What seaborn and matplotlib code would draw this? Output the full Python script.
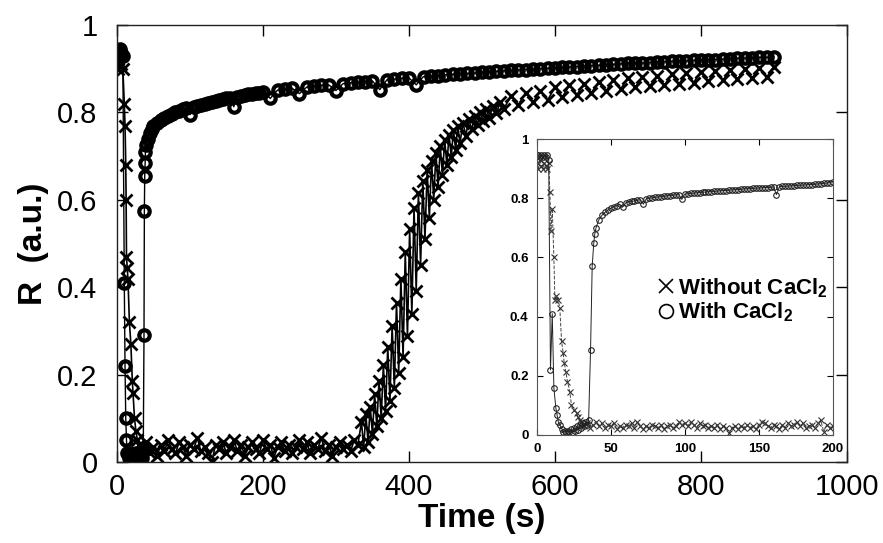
import numpy as np
import pandas as pd
import seaborn as sns
import matplotlib.pyplot as plt
from matplotlib.lines import Line2D

# MAIN PLOT DATA (0 - 900 s)

t_with = [0, 2, 4, 6, 8, 10, 11, 12, 13, 14, 16, 18, 20, 22, 24, 26, 28, 30, 32, 34, 36,
          37, 37.5, 38, 38.5, 39, 40, 42, 45, 48,
          50, 55, 60, 65, 70, 75, 80, 85, 90, 95, 100, 105, 110, 115, 120, 125, 130, 135, 140,
          145, 150, 155, 160, 165, 170, 175, 180, 185, 190, 195, 200, 210, 220, 230, 240, 250,
          260, 270, 280, 290, 300, 310, 320, 330, 340, 350, 360, 370, 380, 390, 400, 410, 420,
          430, 440, 450, 460, 470, 480, 490, 500, 510, 520, 530, 540, 550, 560, 570, 580, 590,
          600, 610, 620, 630, 640, 650, 660, 670, 680, 690, 700, 710, 720, 730, 740, 750, 760,
          770, 780, 790, 800, 810, 820, 830, 840, 850, 860, 870, 880, 890, 900]
R_with = [0.94, 0.93, 0.945, 0.935, 0.93, 0.41, 0.22, 0.10, 0.05, 0.02, 0.01, 0.02, 0.005,
          0.015, 0.01, 0.02, 0.01, 0.015, 0.02, 0.01, 0.03,
          0.29, 0.575, 0.655, 0.685, 0.71, 0.725, 0.74, 0.752, 0.763,
          0.770, 0.776, 0.783, 0.788, 0.792, 0.796, 0.800, 0.804, 0.808, 0.810, 0.795, 0.813,
          0.815, 0.818, 0.820, 0.822, 0.824, 0.826, 0.828, 0.830, 0.832, 0.834, 0.813, 0.836,
          0.838, 0.840, 0.841, 0.842, 0.844, 0.845, 0.847, 0.832, 0.851, 0.853, 0.855, 0.843,
          0.858, 0.860, 0.862, 0.863, 0.850, 0.866, 0.868, 0.869, 0.870, 0.872, 0.852, 0.875,
          0.876, 0.878, 0.879, 0.863, 0.882, 0.883, 0.884, 0.886, 0.887, 0.888, 0.889, 0.890,
          0.892, 0.893, 0.894, 0.895, 0.896, 0.897, 0.898, 0.899, 0.900, 0.901, 0.902, 0.903,
          0.904, 0.905, 0.906, 0.907, 0.908, 0.909, 0.910, 0.911, 0.912, 0.913, 0.913, 0.914,
          0.915, 0.916, 0.917, 0.918, 0.918, 0.919, 0.920, 0.921, 0.921, 0.922, 0.923, 0.924,
          0.924, 0.925, 0.926, 0.926, 0.927]

t_without = [0, 2, 4, 6, 8, 10, 11, 12, 12.5, 13, 14, 15, 17, 19, 21, 22, 24, 26, 28, 30,
             35, 40, 45, 50, 55, 60, 65, 70, 75, 80, 85, 90, 95, 100, 105, 110, 115, 120, 125,
             130, 135, 140, 145, 150, 155, 160, 165, 170, 175, 180, 185, 190, 195, 200, 205,
             210, 215, 220, 225, 230, 235, 240, 245, 250, 255, 260, 265, 270, 275, 280, 285,
             290, 295, 300, 305, 310, 315, 320, 325, 330,
             335, 338, 341, 344, 347, 350, 353, 356, 359, 362, 365, 368, 371, 374, 377, 380,
             383, 386, 389, 392, 395, 398, 401, 404, 407, 410, 413, 416, 419, 422, 425, 428,
             431, 434, 437, 440, 443, 446, 449, 452, 455, 458, 461, 464, 467, 470, 474, 478,
             482, 486, 490, 494, 498, 502, 506, 510, 515, 520, 525, 530,
             540, 550, 560, 570, 580, 590, 600, 610, 620, 630, 640, 650, 660, 670, 680, 690,
             700, 710, 720, 730, 740, 750, 760, 770, 780, 790, 800, 810, 820, 830, 840, 850,
             860, 870, 880, 890, 900]
R_without = [0.92, 0.90, 0.93, 0.91, 0.90, 0.82, 0.77, 0.68, 0.60, 0.47, 0.445, 0.42, 0.32,
             0.27, 0.185, 0.157, 0.10, 0.07, 0.05, 0.04,
             0.030, 0.045, 0.020, 0.035, 0.015, 0.040, 0.025, 0.050, 0.030, 0.020, 0.045,
             0.035, 0.015, 0.040, 0.030, 0.055, 0.025, 0.035, 0.020, 0.000, 0.040, 0.030,
             0.045, 0.020, 0.035, 0.050, 0.025, 0.040, 0.015, 0.035, 0.045, 0.030, 0.020,
             0.050, 0.030, 0.040, 0.010, 0.035, 0.045, 0.025, 0.040, 0.020, 0.035, 0.050,
             0.030, 0.045, 0.020, 0.040, 0.030, 0.055, 0.025, 0.040, 0.015, 0.035, 0.045,
             0.030, 0.040, 0.025, 0.050, 0.040,
             0.091, 0.035, 0.109, 0.046, 0.127, 0.064, 0.155, 0.082, 0.186, 0.100, 0.222,
             0.118, 0.264, 0.140, 0.312, 0.170, 0.365, 0.204, 0.420, 0.240, 0.480, 0.288,
             0.534, 0.338, 0.582, 0.392, 0.615, 0.450, 0.644, 0.510, 0.668, 0.558, 0.689,
             0.600, 0.707, 0.630, 0.722, 0.656, 0.737, 0.680, 0.749, 0.698, 0.760, 0.715,
             0.769, 0.730, 0.776, 0.747, 0.784, 0.761, 0.792, 0.772, 0.800, 0.780, 0.808,
             0.788, 0.815, 0.798, 0.823, 0.808,
             0.838, 0.818, 0.845, 0.823, 0.850, 0.828, 0.857, 0.835, 0.862, 0.840, 0.866,
             0.845, 0.870, 0.849, 0.874, 0.853, 0.879, 0.857, 0.882, 0.860, 0.884, 0.862,
             0.887, 0.865, 0.889, 0.868, 0.893, 0.871, 0.895, 0.873, 0.897, 0.876, 0.899,
             0.878, 0.902, 0.880, 0.905]

# INSET DATA (0 - 200 s)

ti_with = [0, 1, 2, 3, 4, 5, 6, 7, 8, 9.2, 10.4, 11.5, 12.8, 13.7, 14.5, 15.5, 17, 18, 19,
           20, 21, 22, 23, 24, 25, 26, 27, 28, 29, 30, 31, 32, 33, 34, 35, 36.3, 37.4, 38.5,
           39.2, 40, 42, 44, 46, 48, 50, 52, 54, 56, 58, 60, 62, 64, 66, 68, 70, 72, 74, 76,
           78, 80, 82, 84, 86, 88, 90, 92, 94, 96, 98, 100, 102, 104, 106, 108, 110, 112, 114,
           116, 118, 120, 122, 124, 126, 128, 130, 132, 134, 136, 138, 140, 142, 144, 146,
           148, 150, 152, 154, 156, 158, 160, 162, 164, 166, 168, 170, 172, 174, 176, 178,
           180, 182, 184, 186, 188, 190, 192, 194, 196, 198, 200]
Ri_with = [0.945, 0.945, 0.94, 0.945, 0.94, 0.945, 0.94, 0.945, 0.93, 0.22, 0.41, 0.16,
           0.092, 0.067, 0.045, 0.034, 0.02, 0.01, 0.012, 0.008, 0.015, 0.01, 0.02, 0.008,
           0.025, 0.012, 0.03, 0.018, 0.035, 0.025, 0.04, 0.03, 0.045, 0.035, 0.05, 0.287,
           0.57, 0.65, 0.68, 0.700, 0.728, 0.742, 0.752, 0.760, 0.766, 0.771, 0.775, 0.779,
           0.770, 0.784, 0.787, 0.789, 0.791, 0.793, 0.795, 0.780, 0.798, 0.800, 0.801,
           0.803, 0.804, 0.805, 0.806, 0.808, 0.809, 0.810, 0.811, 0.812, 0.796, 0.814,
           0.815, 0.816, 0.817, 0.818, 0.819, 0.820, 0.821, 0.822, 0.822, 0.823, 0.824,
           0.825, 0.826, 0.826, 0.827, 0.828, 0.829, 0.829, 0.830, 0.831, 0.832, 0.832,
           0.833, 0.834, 0.834, 0.835, 0.836, 0.836, 0.837, 0.838, 0.812, 0.839, 0.840,
           0.840, 0.841, 0.842, 0.842, 0.843, 0.844, 0.844, 0.845, 0.846, 0.846, 0.847,
           0.848, 0.849, 0.850, 0.851, 0.853, 0.856]

ti_without = [0, 1, 2, 3, 4, 5, 6, 7, 8, 8.8, 9.5, 10.4, 11.5, 12.2, 13.2, 14.4, 15.5, 16.7,
              17.8, 18.5, 19.6, 20.7, 22.3, 23.4, 25, 26.8, 28, 29,
              30, 32, 34, 36, 38, 40, 42, 44, 46, 48, 50, 52, 54, 56, 58, 60, 62, 64, 66, 68,
              70, 72, 74, 76, 78, 80, 82, 84, 86, 88, 90, 92, 94, 96, 98, 100, 102, 104, 106,
              108, 110, 112, 114, 116, 118, 120, 122, 124, 126, 128, 130, 132, 134, 136, 138,
              140, 142, 144, 146, 148, 150, 152, 154, 156, 158, 160, 162, 164, 166, 168, 170,
              172, 174, 176, 178, 180, 182, 184, 186, 188, 190, 192, 194, 196, 198, 200]
Ri_without = [0.92, 0.90, 0.93, 0.91, 0.90, 0.92, 0.91, 0.90, 0.92, 0.82, 0.69, 0.765, 0.60,
              0.455, 0.47, 0.455, 0.43, 0.317, 0.276, 0.244, 0.214, 0.18, 0.146, 0.10, 0.084,
              0.073, 0.06, 0.05,
              0.045, 0.030, 0.040, 0.025, 0.035, 0.045, 0.030, 0.040, 0.025, 0.035, 0.030,
              0.040, 0.020, 0.030, 0.025, 0.035, 0.030, 0.040, 0.025, 0.045, 0.030, 0.020,
              0.030, 0.025, 0.035, 0.030, 0.025, 0.035, 0.020, 0.030, 0.035, 0.025, 0.030,
              0.045, 0.035, 0.040, 0.030, 0.045, 0.035, 0.025, 0.040, 0.030, 0.035, 0.025,
              0.030, 0.025, 0.035, 0.020, 0.030, 0.025, 0.005, 0.025, 0.030, 0.020, 0.030,
              0.025, 0.035, 0.025, 0.030, 0.020, 0.035, 0.045, 0.040, 0.030, 0.025, 0.035,
              0.030, 0.020, 0.035, 0.025, 0.040, 0.030, 0.035, 0.045, 0.030, 0.040, 0.025,
              0.030, 0.035, 0.025, 0.040, 0.050, 0.010, 0.035, 0.025, 0.030]

labels = ["Without CaCl$_\\mathbf{2}$", "With CaCl$_\\mathbf{2}$"]

sns.set_style("ticks")
plt.rcParams['font.family'] = ['Liberation Sans', 'DejaVu Sans']
plt.rcParams['mathtext.fontset'] = 'custom'
plt.rcParams['mathtext.rm'] = 'Liberation Sans:bold'
plt.rcParams['mathtext.bf'] = 'Liberation Sans:bold'
plt.rcParams['text.color'] = 'black'
plt.rcParams['axes.labelcolor'] = 'black'
plt.rcParams['xtick.color'] = 'black'
plt.rcParams['ytick.color'] = 'black'

fig = plt.figure(figsize=(8.83, 5.43), dpi=100)
ax = fig.add_axes([0.1325, 0.149, 0.8265, 0.805])

sns.lineplot(x=t_without, y=R_without, ax=ax, color='k', lw=1.2, marker='x', markersize=9,
             markeredgecolor='k', markeredgewidth=2.0, estimator=None, sort=False)
sns.lineplot(x=t_with, y=R_with, ax=ax, color='k', lw=1.0, marker='o', markersize=7.5,
             markerfacecolor='none', markeredgecolor='k', markeredgewidth=3.0,
             estimator=None, sort=False)

ax.set_xlim(0, 1000)
ax.set_ylim(0, 1)
ax.set_xticks([0, 200, 400, 600, 800, 1000])
ax.set_xticklabels(['0', '200', '400', '600', '800', '1000'])
ax.set_yticks([0, 0.2, 0.4, 0.6, 0.8, 1])
ax.set_yticklabels(['0', '0.2', '0.4', '0.6', '0.8', '1'])
ax.tick_params(direction='in', length=8, width=1, labelsize=21, top=True, right=True, pad=8)
ax.tick_params(axis='y', pad=14)
for s in ax.spines.values():
    s.set_linewidth(1)
    s.set_color('#222222')
ax.set_xlabel('Time (s)', fontsize=24, fontweight='bold', labelpad=1)
ax.set_ylabel('R  (a.u.)', fontsize=24, fontweight='bold', labelpad=6)

# INSET
axi = fig.add_axes([0.608, 0.199, 0.335, 0.545])
axi.set_facecolor('white')
sns.lineplot(x=ti_without, y=Ri_without, ax=axi, color='#444444', lw=0.7, ls='--',
             marker='x', markersize=4.5, markeredgecolor='#333333', markeredgewidth=0.8,
             estimator=None, sort=False)
sns.lineplot(x=ti_with, y=Ri_with, ax=axi, color='#222222', lw=0.7, marker='o', markersize=4,
             markerfacecolor='none', markeredgecolor='#222222', markeredgewidth=0.8,
             estimator=None, sort=False)
axi.set_xlim(0, 200)
axi.set_ylim(0, 1)
axi.set_xticks([0, 50, 100, 150, 200])
axi.set_yticks([0, 0.2, 0.4, 0.6, 0.8, 1])
axi.set_yticklabels(['0', '0.2', '0.4', '0.6', '0.8', '1'])
axi.tick_params(direction='in', length=4, width=0.8, labelsize=9.5, top=True, right=True, pad=6)
for lab in axi.get_xticklabels() + axi.get_yticklabels():
    lab.set_fontweight('bold')
for s in axi.spines.values():
    s.set_linewidth(0.8)
    s.set_color('#555555')

handles = [Line2D([], [], ls='none', marker='x', markersize=10, color='k', markeredgewidth=1.2),
           Line2D([], [], ls='none', marker='o', markersize=10, markerfacecolor='none',
                  markeredgecolor='k', markeredgewidth=1.2)]
axi.legend(handles, labels, loc='center left', bbox_to_anchor=(0.36, 0.455), frameon=False,
           prop={'size': 16, 'weight': 'bold'}, handletextpad=0.05, handlelength=1.0,
           labelspacing=0.05, borderpad=0)

fig.savefig('out.png', dpi=100)
